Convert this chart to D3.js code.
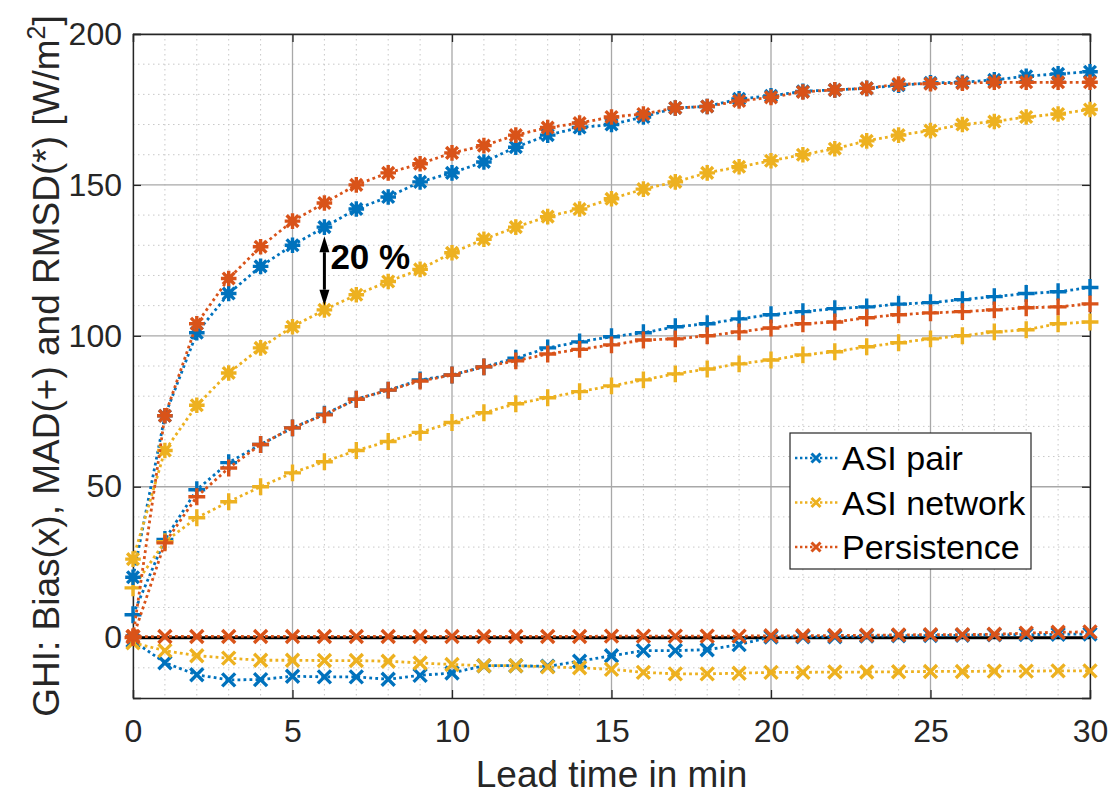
<!DOCTYPE html>
<html>
<head>
<meta charset="utf-8">
<script src="https://cdn.jsdelivr.net/npm/d3@7"></script>
<style>
  body { margin: 0; background: #fff; }
  text { font-family: "Liberation Sans", Arial, sans-serif; }
</style>
</head>
<body>
<div id="canvas"></div>
<script>
// lead time in minutes
const leadTime = d3.range(0, 31);

// ASI pair (blue)
const pairBias = [-1, -8.3, -12.3, -14, -13.9, -12.8, -13, -13, -13.8, -12.5, -11.7, -9.3, -9.3, -9.5, -7.8, -6, -4.3, -4.3, -4, -2.3, 0.2, 0.3, 0.3, 0.5, 0.6, 0.7, 0.8, 0.9, 1, 1.1, 1.2];
const pairMad = [7.6, 32.5, 49, 58, 64, 69.5, 74, 79, 82, 85.4, 87, 89.7, 92.6, 96, 98, 99.7, 101, 103, 104, 105.6, 107, 108, 109, 109.6, 110.5, 111, 112, 113, 114, 114.6, 116];
const pairRmsd = [20, 73.5, 101, 114, 123, 130, 136, 142, 146, 151, 154, 157.6, 162.5, 166.5, 169, 170, 172.5, 175.5, 176, 178.5, 179.5, 181, 181.5, 182, 183, 183.8, 184, 184.8, 186, 186.8, 187.5];

// ASI network (yellow)
const netBias = [-1.7, -4.3, -6, -6.8, -7.5, -7.5, -7.6, -7.6, -7.8, -8.4, -8.9, -9.3, -9.3, -9.7, -10, -10.5, -11.5, -12, -12, -11.8, -11.5, -11.5, -11.4, -11.4, -11.3, -11.2, -11.2, -11.1, -11.1, -11, -11];
const netMad = [16.5, 31.8, 39.7, 45, 50, 54.6, 58.3, 62, 65, 68, 71.3, 74.5, 77.5, 79.5, 81.5, 83.4, 85.4, 87.4, 89, 90.7, 92, 93.7, 94.7, 96.4, 97.7, 99, 100, 101.3, 102, 104, 104.6];
const netRmsd = [26, 62, 77, 87.7, 96, 103, 108.6, 113.6, 118, 122, 127.5, 132, 136, 139.5, 142, 145.4, 148.6, 151, 154, 156, 158, 160, 162, 164.6, 166.5, 168, 170, 171, 172.5, 173.5, 175];

// Persistence (orange)
const persBias = [0.3, 0.4, 0.4, 0.4, 0.4, 0.4, 0.4, 0.4, 0.4, 0.4, 0.4, 0.4, 0.4, 0.4, 0.4, 0.5, 0.5, 0.5, 0.5, 0.5, 0.6, 0.6, 0.7, 0.8, 0.9, 1, 1, 1.1, 1.5, 1.8, 1.9];
const persMad = [0, 31.4, 46.7, 56.2, 64, 69.5, 73.8, 79, 82, 85, 87, 89.7, 91.7, 94, 95.5, 97, 98.6, 99, 100, 101.3, 102.6, 104, 104.6, 106, 107, 107.6, 108, 108.6, 109.3, 109.6, 110.6];
const persRmsd = [0.5, 73.5, 104, 119, 129.5, 138, 144, 150, 154, 157, 160.6, 163, 166.5, 169, 170.5, 172.5, 173.5, 175.5, 176, 177.8, 179, 180.8, 181.5, 182, 183.4, 183.5, 183.7, 184, 184, 184, 184];

const seriesNames = ["ASI pair", "ASI network", "Persistence"];
const seriesColors = ["#0072BD", "#EDB120", "#D95319"];

const xTicks = [0, 5, 10, 15, 20, 25, 30];
const yTicks = [0, 50, 100, 150, 200];

// arrow between ASI pair and ASI network RMSD at 6 min
const arrowAt = 6;
const arrowFrom = 133;
const arrowTo = 110;
const arrowLabel = "20 %";

const width = 1109;
const height = 795;
const margin = { top: 34, left: 133, bottom: 97, right: 19 };
const iwidth = width - margin.left - margin.right;
const iheight = height - margin.top - margin.bottom;

const svg = d3.select("#canvas").append("svg")
  .attr("width", width)
  .attr("height", height);

const x = d3.scaleLinear().domain([0, 30]).range([0, iwidth]);
const y = d3.scaleLinear().domain([-20, 200]).range([iheight, 0]);

const g = svg.append("g")
  .attr("transform", `translate(${margin.left},${margin.top})`);

// minor grid
g.append("g").selectAll("line")
  .data(d3.range(0, 31).filter(v => v % 5 !== 0))
  .join("line")
  .attr("x1", d => x(d)).attr("x2", d => x(d))
  .attr("y1", 0).attr("y2", iheight)
  .attr("stroke", "#c8c8c8").attr("stroke-width", 1)
  .attr("stroke-dasharray", "1.5,3.5");
g.append("g").selectAll("line")
  .data(d3.range(-10, 200, 10).filter(v => v % 50 !== 0))
  .join("line")
  .attr("x1", 0).attr("x2", iwidth)
  .attr("y1", d => y(d)).attr("y2", d => y(d))
  .attr("stroke", "#c8c8c8").attr("stroke-width", 1)
  .attr("stroke-dasharray", "1.5,3.5");

// major grid
g.append("g").selectAll("line")
  .data(xTicks)
  .join("line")
  .attr("x1", d => x(d)).attr("x2", d => x(d))
  .attr("y1", 0).attr("y2", iheight)
  .attr("stroke", "#a8a8a8").attr("stroke-width", 1.3);
g.append("g").selectAll("line")
  .data(yTicks)
  .join("line")
  .attr("x1", 0).attr("x2", iwidth)
  .attr("y1", d => y(d)).attr("y2", d => y(d))
  .attr("stroke", "#a8a8a8").attr("stroke-width", 1.3);

// axes
g.append("g")
  .attr("transform", `translate(0,${iheight})`)
  .call(d3.axisBottom(x).tickValues(xTicks).tickSize(-8).tickPadding(21).tickFormat(d3.format("d")));
g.append("g")
  .call(d3.axisLeft(y).tickValues(yTicks).tickSize(-8).tickPadding(11).tickFormat(d3.format("d")));
g.append("g")
  .call(d3.axisTop(x).tickValues(xTicks).tickSize(-8).tickFormat(""));
g.append("g")
  .attr("transform", `translate(${iwidth},0)`)
  .call(d3.axisRight(y).tickValues(yTicks).tickSize(-8).tickFormat(""));

g.selectAll(".domain").attr("stroke", "#262626").attr("stroke-width", 1.3);
g.selectAll(".tick line").attr("stroke", "#262626").attr("stroke-width", 1.3);
g.selectAll(".tick text")
  .attr("fill", "#262626")
  .style("font-size", "32px");

// zero reference line
g.append("line")
  .attr("x1", x(0)).attr("x2", x(30))
  .attr("y1", y(0)).attr("y2", y(0))
  .attr("stroke", "#000").attr("stroke-width", 3);

// markers
const markerPath = (type, s) => {
  const xs = `M${-s},${-s}L${s},${s}M${-s},${s}L${s},${-s}`;
  const p = `M${-s * 1.3},0L${s * 1.3},0M0,${-s * 1.3}L0,${s * 1.3}`;
  if (type === "x") return xs;
  if (type === "+") return p;
  const d = s * 0.9;
  return `M${-d},${-d}L${d},${d}M${-d},${d}L${d},${-d}M${-s * 1.2},0L${s * 1.2},0M0,${-s * 1.2}L0,${s * 1.2}`;
};

const line = d3.line()
  .x((d, i) => x(leadTime[i]))
  .y(d => y(d));

const drawSeries = (values, color, marker) => {
  const sg = g.append("g");
  sg.append("path")
    .datum(values)
    .attr("d", line)
    .attr("fill", "none")
    .attr("stroke", color)
    .attr("stroke-width", 2.8)
    .attr("stroke-dasharray", "2.8,3.2");
  sg.selectAll("path.m")
    .data(values)
    .join("path")
    .attr("class", "m")
    .attr("transform", (d, i) => `translate(${x(leadTime[i])},${y(d)})`)
    .attr("d", markerPath(marker, 6.5))
    .attr("fill", "none")
    .attr("stroke", color)
    .attr("stroke-width", 3.4);
};

const biasSets = [pairBias, netBias, persBias];
const madSets = [pairMad, netMad, persMad];
const rmsdSets = [pairRmsd, netRmsd, persRmsd];

biasSets.forEach((s, i) => drawSeries(s, seriesColors[i], "x"));
madSets.forEach((s, i) => drawSeries(s, seriesColors[i], "+"));
rmsdSets.forEach((s, i) => drawSeries(s, seriesColors[i], "*"));

// arrow annotation
const ax = x(arrowAt);
const ah = 16;
g.append("line")
  .attr("x1", ax).attr("x2", ax)
  .attr("y1", y(arrowFrom) + ah).attr("y2", y(arrowTo) - ah)
  .attr("stroke", "#000").attr("stroke-width", 3);
g.append("path")
  .attr("d", `M${ax - 5},${y(arrowFrom) + ah}L${ax},${y(arrowFrom)}L${ax + 5},${y(arrowFrom) + ah}Z`)
  .attr("fill", "#000");
g.append("path")
  .attr("d", `M${ax - 5},${y(arrowTo) - ah}L${ax},${y(arrowTo)}L${ax + 5},${y(arrowTo) - ah}Z`)
  .attr("fill", "#000");
g.append("text")
  .attr("x", ax + 6)
  .attr("y", y(arrowFrom) + 33)
  .style("font-size", "35px")
  .style("font-weight", "bold")
  .attr("fill", "#000")
  .text(arrowLabel);

// axis labels
svg.append("text")
  .attr("x", margin.left + iwidth / 2)
  .attr("y", 787)
  .attr("text-anchor", "middle")
  .style("font-size", "37px")
  .attr("fill", "#262626")
  .text("Lead time in min");

const ylab = svg.append("text")
  .attr("transform", "translate(59,366) rotate(-90)")
  .attr("text-anchor", "middle")
  .style("font-size", "37px")
  .attr("fill", "#262626");
ylab.append("tspan").text("GHI: Bias(x), MAD(+) and RMSD(*) [W/m");
ylab.append("tspan").attr("dy", -14).style("font-size", "25px").text("2");
ylab.append("tspan").attr("dy", 14).text("]");

// legend
const lg = svg.append("g").attr("transform", "translate(790,433)");
lg.append("rect")
  .attr("width", 241).attr("height", 136)
  .attr("fill", "#fff")
  .attr("stroke", "#262626").attr("stroke-width", 1.2);
seriesNames.forEach((name, i) => {
  const ly = 25 + i * 44.5;
  lg.append("line")
    .attr("x1", 5).attr("x2", 48)
    .attr("y1", ly).attr("y2", ly)
    .attr("stroke", seriesColors[i]).attr("stroke-width", 2.4)
    .attr("stroke-dasharray", "2.4,2.6");
  lg.append("path")
    .attr("transform", `translate(26,${ly})`)
    .attr("d", markerPath("x", 4.5))
    .attr("stroke", seriesColors[i]).attr("stroke-width", 3);
  lg.append("text")
    .attr("x", 52).attr("y", ly + 12)
    .style("font-size", "34px")
    .attr("fill", "#000")
    .text(name);
});
</script>
</body>
</html>
